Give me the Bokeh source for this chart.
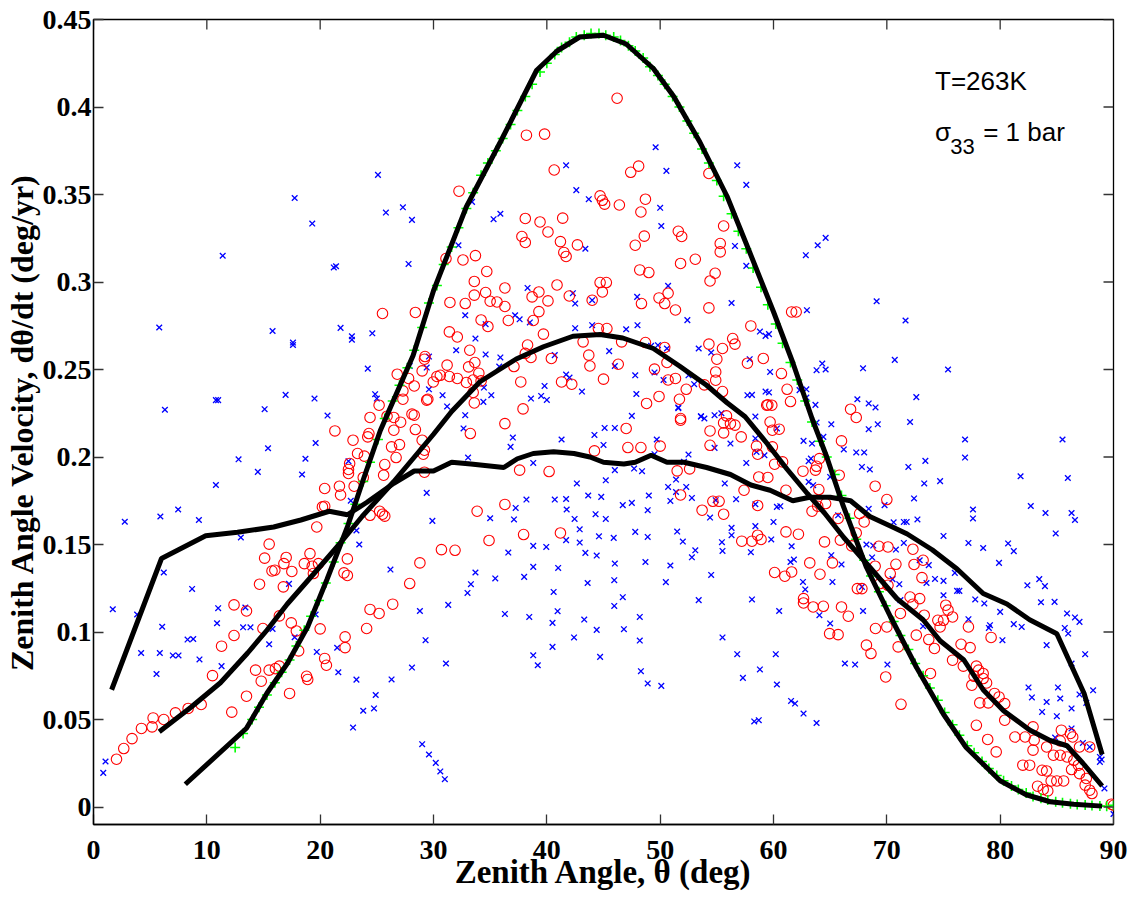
from bokeh.plotting import figure
from bokeh.models import FixedTicker, Label, Range1d
from bokeh.embed import file_html
from bokeh.resources import INLINE

# ---------------- data ----------------
x_ticks = [0, 10, 20, 30, 40, 50, 60, 70, 80, 90]
y_ticks = [0, 0.05, 0.1, 0.15, 0.2, 0.25, 0.3, 0.35, 0.4, 0.45]
y_tick_labels = ["0", "0.05", "0.1", "0.15", "0.2", "0.25", "0.3", "0.35", "0.4", "0.45"]
x_limits = (0, 90)
y_limits = (-0.01, 0.45)

blue_pts = [
    (0.86,0.0195),(1.06,0.026),(1.7,0.113),(2.76,0.163),(3.85,0.11),(4.2,0.088),(5.56,0.076),(5.9,0.166),(6.2,0.134),
    (6.06,0.103),(5.85,0.088),(6.3,0.227),(7.0,0.0866),(7.5,0.0866),(7.47,0.170),(8.3,0.0957),(8.8,0.096),(8.7,0.1246),
    (9.3,0.164),(9.35,0.0843),(10.8,0.184),(10.8,0.2325),(11.0,0.2325),(10.9,0.105),(11.0,0.1136),(11.3,0.0805),(13.0,0.154),
    (13.2,0.1027),(13.4,0.114),(13.85,0.1027),(12.8,0.1987),(14.5,0.1915),(15.1,0.2273),(15.4,0.205),(15.5,0.093),(15.8,0.1018),
    (17.25,0.1275),(17.75,0.097),(18.4,0.190),(18.7,0.199),(19.6,0.208),(19.6,0.11),(19.7,0.0886),(20.65,0.2237),(21.5,0.091),
    (21.6,0.077),(22.5,0.1976),(22.7,0.175),(23.2,0.158),(23.45,0.150),(23.2,0.0728),(22.9,0.0454),(23.8,0.055),(24.75,0.0563),
    (24.9,0.064),
    (5.8,0.274),(11.4,0.315),(15.8,0.272),(16.95,0.2355),(17.6,0.2654),(17.6,0.264),(17.75,0.348),(19.3,0.3334),(19.5,0.2334),
    (21.2,0.3083),(21.4,0.309),(21.8,0.2738),(22.8,0.269),(22.8,0.267),(24.6,0.2707),(24.2,0.2505),(24.85,0.2359),(25.0,0.2334),
    (25.1,0.3612),(25.8,0.3397),(27.3,0.3427),(28.1,0.3355),(27.8,0.3103),(27.9,0.252),(29.4,0.2511),(29.6,0.2574),(29.6,0.2387),
    (41.7,0.3667),(42.6,0.3525),(43.7,0.3473),(35.3,0.3359),(35.9,0.339),(33.4,0.3458),(32.2,0.321),(43.4,0.319),(49.6,0.377),
    (50.55,0.3635),(50.0,0.3424),(50.1,0.332),(56.8,0.3667),(57.6,0.3555),(56.6,0.3206),(57.6,0.3092),(56.3,0.288),(50.7,0.2978),
    (47.97,0.2915),(42.3,0.2936),(42.5,0.2877),(44.0,0.2896),(38.3,0.2966),(32.8,0.281),(37.2,0.281),(37.6,0.2787),(38.5,0.2769),
    (34.6,0.2759),(42.5,0.2736),(44.0,0.2753),(47.0,0.273),(48.0,0.2753),(52.4,0.2782),(58.8,0.2717),(59.3,0.2692),(59.6,0.2702),
    (33.7,0.2677),(32.0,0.261),(34.6,0.2586),(35.9,0.2569),(35.8,0.2517),(40.7,0.2582),(45.5,0.2605),(46.0,0.252),(49.2,0.2635),
    (49.8,0.2639),(50.6,0.262),(53.4,0.262),(54.5,0.2597),(57.9,0.2559),(59.7,0.2486),(47.8,0.2467),(49.5,0.2483),(50.3,0.244),
    (52.5,0.2467),(53.0,0.2416),(41.7,0.2471),(42.0,0.2454),(39.8,0.2406),(30.8,0.2353),(34.45,0.2397),(35.1,0.2353),(38.6,0.2334),
    (39.5,0.2349),(40.0,0.2326),(43.1,0.2374),(47.9,0.236),(57.7,0.2353),(58.1,0.2355),(59.3,0.2374),(59.6,0.2369),(32.8,0.2239),
    (31.2,0.2289),(47.5,0.2235),(51.6,0.2279),(53.6,0.2231),(54.8,0.2239),(55.4,0.225),(58.4,0.2231),
    (62.85,0.3153),(63.9,0.321),(64.6,0.3252),(62.95,0.2839),(69.1,0.289),(71.65,0.278),(70.7,0.2555),(75.4,0.25),(67.9,0.2507),
    (63.8,0.2496),(64.3,0.2534),(64.6,0.25),(62.3,0.2382),(62.9,0.2387),(62.9,0.234),(63.7,0.2298),(67.4,0.233),(68.4,0.2306),
    (69.0,0.2283),(72.6,0.2342),
    (65.1,0.2187),(63.8,0.2197),(64.4,0.2115),(62.65,0.2092),(63.4,0.2077),(66.2,0.2043),(67.3,0.2026),(68.0,0.2026),(68.4,0.2159),
    (69.2,0.2187),(72.05,0.22),(76.9,0.21),(76.9,0.1997),(73.4,0.1978),(74.7,0.1862),(73.3,0.1849),(71.9,0.1943),(67.8,0.1943),
    (68.5,0.1929),(63.3,0.1991),(63.1,0.1976),(65.0,0.1886),(63.1,0.1858),(63.5,0.1839),(72.4,0.1763),(69.8,0.1725),(68.4,0.1704),
    (77.6,0.17),(77.6,0.1649),(72.7,0.1643),(71.75,0.1629),(71.5,0.1629),(70.6,0.1627),(75.0,0.1549),(77.2,0.1509),(71.5,0.1509),
    (70.8,0.1471),(68.8,0.1494),(68.2,0.15),(65.7,0.1667),(61.6,0.149),(60.6,0.1719),(65.1,0.1439),(66.0,0.1386),(61.8,0.1414),
    (61.5,0.14),(68.7,0.1426),(72.9,0.141),(73.7,0.1382),(76.0,0.1338),(62.6,0.1286),(65.2,0.1286),(62.8,0.1243),(70.5,0.1302),
    (71.1,0.1273),(73.5,0.128),(74.25,0.1303),(75.0,0.1292),(76.2,0.1235),(76.4,0.1235),(67.8,0.1258),(75.0,0.121),
    (64.05,0.1096),(65.0,0.1049),(66.3,0.082),(67.2,0.0814),(67.9,0.112),(70.05,0.0814),(71.2,0.1182),(73.2,0.1033),(77.2,0.1073),
    (79.1,0.1039),(79.0,0.1023),(80.2,0.0953),(81.2,0.1045),(81.9,0.1029),(78.6,0.1163),(80.0,0.1115),(77.8,0.1186),(78.5,0.148),
    (79.9,0.1395),(80.7,0.1506),(81.2,0.1462),(82.4,0.1267),(83.45,0.1302),(83.95,0.1262),(83.6,0.117),(84.8,0.1172),(84.9,0.1563),
    (84.1,0.0925),(85.9,0.1106),(86.6,0.1083),(87.0,0.1058),(85.7,0.1023),(86.0,0.0991),(87.5,0.0873),(86.3,0.082),(82.5,0.0683),
    (82.8,0.0626),(84.1,0.06),(85.1,0.0683),(85.3,0.062),(83.7,0.0543),(85.0,0.0519),(86.3,0.0563),(86.3,0.0449),(87.0,0.0643),
    (87.6,0.0595),(88.2,0.0667),(84.85,0.0397),(87.3,0.0366),(87.9,0.0343),(88.8,0.0286),(88.95,0.0271),(88.8,0.0258),(89.2,0.0106),
    (90.0,-0.004),
    (85.5,0.21),(85.97,0.188),(86.3,0.168),(86.6,0.164),(81.8,0.189),(82.7,0.172),(84.0,0.168),
    (29.4,0.1795),(29.9,0.1635),(33.05,0.1997),(32.65,0.2163),(34.4,0.2315),(37.0,0.2111),(36.8,0.2058),(38.8,0.1966),(41.3,0.21),
    (44.2,0.2126),(45.1,0.2166),(46.0,0.2166),(45.0,0.2069),(49.7,0.21),(49.5,0.2016),(46.0,0.1925),(45.2,0.1867),(47.7,0.1934),
    (48.4,0.1919),(42.65,0.1849),(43.65,0.178),(44.8,0.1772),(46.7,0.1725),(47.5,0.1738),(49.0,0.178),(48.9,0.1696),(38.2,0.1757),
    (40.7,0.1757),(41.7,0.176),(41.75,0.17),(37.25,0.1709),(35.0,0.165),(37.1,0.1643),(42.45,0.1646),(44.3,0.1673),(45.2,0.1646),
    (42.9,0.1587),(47.8,0.1572),(48.9,0.1543),(45.9,0.1538),(44.6,0.1547),(41.7,0.1525),(42.9,0.1511),(38.8,0.1492),(39.95,0.1486),
    (36.6,0.1454),(43.4,0.1452),(44.4,0.1437),(46.0,0.1391),(48.7,0.14),(38.8,0.1372),(41.0,0.1366),(33.7,0.134),(26.2,0.1357),
    (35.45,0.1306),(38.0,0.1315),(33.3,0.1273),(33.0,0.1223),(40.6,0.1229),(43.6,0.128),(45.95,0.1296),(46.7,0.1199),(45.95,0.1149),
    (31.3,0.1155),(28.8,0.112),(36.3,0.1103),(38.45,0.1086),(40.95,0.1119),(40.5,0.1052),(43.3,0.1071),(44.4,0.1012),(46.8,0.1016),
    (48.2,0.1086),(29.3,0.0953),(40.5,0.0915),(42.4,0.0969),(44.7,0.0858),(48.2,0.0951),(38.8,0.0867),(39.2,0.081),(31.1,0.082),
    (28.1,0.0797),(26.3,0.0729),(48.3,0.0776),(48.9,0.0706),(29.0,0.0359),(29.6,0.03),(30.2,0.0252),(30.6,0.0203),(31.0,0.0159),
    (51.6,0.2283),(53.6,0.2233),(53.9,0.222),(60.3,0.2163),(52.5,0.2014),(52.1,0.1972),(56.2,0.2077),(54.8,0.2052),(58.4,0.2106),
    (58.5,0.2029),(59.2,0.201),(57.6,0.1966),(51.4,0.1871),(50.7,0.1829),(52.3,0.1829),(51.4,0.18),(52.8,0.1766),(50.9,0.1749),
    (55.7,0.1849),(56.7,0.1759),(54.9,0.1753),(54.4,0.1654),(58.4,0.173),(60.3,0.1715),(60.0,0.1629),(56.3,0.1595),(56.3,0.1553),
    (58.4,0.1605),(55.45,0.1513),(55.5,0.1463),(58.0,0.1456),(59.8,0.1529),(51.5,0.1574),(52.0,0.1517),(53.1,0.1467),(52.8,0.1427),
    (50.9,0.138),(54.5,0.1326),(50.5,0.1285),(53.4,0.1182),(58.1,0.1186),(60.5,0.112),(55.5,0.0969),(56.8,0.0873),(60.2,0.0873),
    (50.1,0.0692),(57.3,0.0738),(58.8,0.0786),(60.3,0.07),(61.55,0.0606),(61.9,0.0591),(62.65,0.0534),(58.3,0.0489),(58.7,0.0496),
    (63.8,0.048),
]

red_pts = [
    (2.03,0.0273),(2.67,0.0334),(3.4,0.0391),(4.23,0.0449),(5.17,0.0458),(5.26,0.0509),(6.2,0.05),(7.23,0.0538),(8.35,0.0563),
    (9.5,0.0586),(10.5,0.0751),(11.3,0.0919),(12.2,0.0542),(12.4,0.098),(12.4,0.1155),(13.5,0.0633),(13.5,0.112),(14.3,0.0782),
    (14.65,0.1273),(14.8,0.0719),(14.95,0.102),(15.1,0.1422),(15.5,0.1502),(15.5,0.0782),(15.75,0.1349),(16.0,0.1353),(16.05,0.0791),
    (16.4,0.0805),(16.4,0.1092),(16.8,0.1391),(16.75,0.1258),(17.0,0.1426),(17.3,0.0649),(17.45,0.1052),(17.5,0.1346),(17.9,0.1006),
    (18.1,0.0892),(18.6,0.1391),(18.8,0.0747),(18.9,0.0729),(19.1,0.1448),(19.3,0.1376),(19.4,0.1334),(19.7,0.16),(20.0,0.1018),
    (19.85,0.1391),(20.4,0.0849),(20.55,0.081),(20.4,0.182),(20.4,0.1719),(20.2,0.1715),(21.3,0.2149),(21.7,0.1833),(21.8,0.1783),
    (22.2,0.0972),(22.2,0.0911),(22.1,0.1338),(22.4,0.1323),(22.4,0.1418),(22.5,0.1929),(22.5,0.1906),(22.6,0.1963),(22.9,0.2096),
    (23.0,0.1833),(23.3,0.202),(23.8,0.1883),(23.9,0.2005),(24.2,0.2115),(24.3,0.2134),(24.4,0.2226),(24.4,0.1667),(24.4,0.1129),
    (24.1,0.102),(25.2,0.1106),(25.2,0.2296),
    (25.9,0.2233),(26.5,0.2226),(27.1,0.2199),(28.1,0.2245),(26.5,0.2153),(28.4,0.2157),(27.0,0.2071),(26.3,0.2058),(29.0,0.2096),
    (29.2,0.2039),(29.1,0.2016),(26.7,0.1997),(25.7,0.1957),(25.6,0.1896),(29.2,0.1913),(25.25,0.169),(25.5,0.1673),(25.7,0.1662),
    (33.25,0.2134),(36.3,0.2191),(37.9,0.2275),(33.6,0.2309),(33.85,0.169),(36.3,0.1729),(37.6,0.1925),(40.2,0.1917),(37.95,0.1557),
    (34.9,0.1523),(41.2,0.1566),(30.7,0.1471),(31.9,0.1467),(28.8,0.1395),(27.9,0.1277),(26.4,0.1159),(47.0,0.2163),(44.2,0.2035),
    (47.15,0.2054),(48.3,0.2054),(48.8,0.2306),(29.4,0.2325),
    (25.5,0.282),(28.4,0.2826),(29.25,0.2574),(29.2,0.2559),(26.8,0.2473),(27.8,0.2449),(28.3,0.2406),(27.3,0.2378),(29.5,0.233),
    (27.3,0.233),(28.3,0.2239),(29.0,0.2492),
    (46.2,0.405),(38.2,0.3839),(39.8,0.3845),(40.65,0.364),(47.4,0.3627),(48.1,0.3662),(54.3,0.362),(32.25,0.3519),(44.7,0.3492),
    (44.9,0.3467),(45.1,0.3445),(46.4,0.344),(48.7,0.3473),(48.3,0.34),(38.1,0.3363),(39.4,0.3343),(41.4,0.3365),(40.1,0.3286),
    (37.8,0.326),(38.1,0.3226),(41.2,0.3231),(41.5,0.3169),(41.7,0.3146),(42.7,0.3212),(48.6,0.3262),(47.8,0.321),(51.6,0.329),
    (51.9,0.326),(55.6,0.332),(55.3,0.322),(55.3,0.3172),(51.8,0.3106),(53.1,0.313),(48.2,0.3069),(49.0,0.3054),(54.85,0.305),
    (54.4,0.3006),(54.3,0.2852),(51.35,0.284),(50.4,0.2877),(49.9,0.2909),(50.7,0.2936),(48.35,0.2877),(44.7,0.2997),(45.25,0.2997),
    (44.9,0.2943),(44.0,0.2896),(41.98,0.292),(40.9,0.2983),(40.1,0.2892),(39.3,0.2943),(38.7,0.2915),(39.3,0.2831),(38.8,0.278),
    (36.3,0.2966),(36.3,0.286),(36.6,0.278),(35.6,0.2886),(35.0,0.289),(34.6,0.294),(34.7,0.306),(33.6,0.3003),(33.6,0.2925),
    (32.8,0.2877),(31.45,0.2883),(34.2,0.2783),(34.8,0.2746),(32.6,0.3126),(33.7,0.3151),(31.1,0.3134),(31.4,0.2715),(32.1,0.2686),
    (33.2,0.261),(39.7,0.2702),(38.3,0.264),(38.1,0.2592),(38.6,0.2569),(40.4,0.2563),(37.1,0.2517),(31.2,0.2525),(33.1,0.2515),
    (33.65,0.254),(30.6,0.2467),(31.4,0.246),(32.1,0.2449),(32.9,0.2426),(33.5,0.244),(34.0,0.2479),(34.2,0.2435),(33.5,0.2369),
    (37.7,0.2429),(41.3,0.2429),(42.2,0.2416),(43.2,0.2658),(43.7,0.2582),(43.8,0.252),(44.55,0.2734),(45.3,0.2734),(46.6,0.2658),
    (45.0,0.2445),(46.3,0.253),(48.7,0.2654),(50.4,0.2626),(50.6,0.254),(49.5,0.2502),(51.35,0.2449),(50.7,0.244),(52.3,0.2387),
    (51.7,0.233),(49.9,0.2346),(51.8,0.222),(54.3,0.2645),(55.5,0.262),(55.0,0.2559),(54.9,0.2486),(54.9,0.2439),(53.9,0.2412),
    (55.5,0.2374),(56.4,0.2677),(56.6,0.2645),(58.0,0.2749),(59.1,0.2563),(57.7,0.2536),(59.5,0.2298),(55.85,0.2235),(29.98,0.2429),
    (30.3,0.246),
    (61.6,0.2829),(62.0,0.2829),(60.7,0.2477),(61.2,0.2387),(61.5,0.2317),(66.8,0.2273),(67.3,0.2226),
    (51.8,0.221),(54.4,0.2149),(55.6,0.2138),(55.6,0.2195),(56.2,0.2191),(56.6,0.2182),(57.15,0.2115),(59.4,0.2296),(59.85,0.2296),
    (59.7,0.22),(60.5,0.2159),(59.9,0.2153),(50.0,0.2062),(54.4,0.2067),(58.5,0.2062),(58.6,0.2016),(59.9,0.2058),(60.1,0.1959),
    (51.5,0.1921),(52.6,0.1932),(58.7,0.1886),(59.5,0.1883),(51.8,0.1783),(57.4,0.181),(53.7,0.1696),(54.65,0.1747),(55.2,0.1747),
    (55.6,0.1673),(58.6,0.1723),(57.2,0.1519),(58.1,0.1519),(58.6,0.1553),(58.9,0.1529),(60.1,0.134),(60.8,0.1972),
    (66.0,0.2092),(64.05,0.1991),(63.8,0.1947),(63.7,0.1925),(62.6,0.1919),(65.8,0.1896),(64.0,0.1814),(61.1,0.181),(68.97,0.1833),
    (70.0,0.1757),(63.9,0.1719),(63.4,0.169),(64.6,0.1734),(67.6,0.1677),(68.0,0.1629),(65.7,0.1649),(61.1,0.1572),(62.2,0.1559),
    (64.5,0.1515),(65.9,0.1525),(67.3,0.1566),(69.3,0.149),(70.1,0.1486),(72.3,0.1473),(66.9,0.1492),(63.2,0.1395),(65.2,0.1395),
    (68.97,0.1376),(70.8,0.1387),(72.4,0.1386),(73.2,0.141),(64.1,0.133),(70.3,0.1334),(73.1,0.1311),(61.0,0.1319),(61.6,0.1343),
    (67.4,0.1248),(67.8,0.1248),(69.4,0.1277),(70.1,0.1267),(72.05,0.12),(72.9,0.1191),(62.65,0.1191),
    (62.65,0.1166),(63.5,0.1143),(64.4,0.1147),(64.95,0.0991),(65.7,0.0985),(66.0,0.1143),(66.6,0.109),(68.2,0.0925),(68.6,0.0877),
    (69.0,0.102),(70.0,0.1029),(71.2,0.1106),(71.0,0.0915),(69.9,0.0743),(71.25,0.0587),(72.3,0.1159),(72.6,0.0982),(73.3,0.1096),
    (73.7,0.0957),(73.85,0.0763),(74.2,0.0906),(74.5,0.1067),(75.0,0.1067),(75.2,0.1153),(75.4,0.1125),(75.8,0.1086),(74.7,0.1029),
    (75.8,0.0839),(76.55,0.093),(77.35,0.0911),(77.2,0.1029),(76.75,0.0805),(77.9,0.0805),(78.1,0.0782),(78.5,0.0763),(77.7,0.0747),
    (78.5,0.0734),(78.8,0.0709),(79.2,0.0969),(79.5,0.0649),(79.9,0.0629),(77.5,0.0696),(77.9,0.0467),(78.9,0.0386),(79.65,0.0315),
    (78.2,0.0595),(78.95,0.0595),(80.4,0.0591),(80.4,0.0496),(81.3,0.04),(82.2,0.04),(82.9,0.0458),(83.0,0.0382),(82.9,0.0325),
    (82.0,0.0239),(82.6,0.0239),(83.7,0.021),(84.1,0.0206),(84.5,0.0149),(85.0,0.0149),(85.6,0.0149),(83.3,0.0119),(83.8,0.01),
    (84.2,0.0092),(84.1,0.0343),(84.7,0.0296),(85.3,0.0296),(85.9,0.0286),(86.3,0.0214),(86.5,0.0267),(86.9,0.0239),(86.4,0.04),
    (87.0,0.0343),(85.4,0.0439),(86.2,0.042),(85.3,0.0378),(87.0,0.0191),(87.5,0.0125),(87.9,0.0096),(88.1,0.0077),(87.6,0.0163),
    (87.9,0.0343),(89.8,0.0016),(90.0,0.001),
]

blue_x = [p_[0] for p_ in blue_pts]
blue_y = [p_[1] for p_ in blue_pts]
red_x = [p_[0] for p_ in red_pts]
red_y = [p_[1] for p_ in red_pts]

green_x = [12.5,13.2,14.0,14.6,15.3,16.0,16.6,17.3,17.9,18.6,19.2,19.9,20.5,21.2,21.8,22.5,23.1,23.8,24.4,25.1,25.7,26.4,
           27.0,27.7,28.3,29.0,29.6,30.3,30.9,31.6,32.2,32.9,33.5,34.2,34.8,35.5,36.1,36.8,37.4,38.1,38.7,39.4,40.0,40.7,
           41.3,42.0,42.6,43.3,43.9,44.6,45.2,45.9,46.5,47.2,47.8,48.5,49.1,49.8,50.4,51.1,51.7,52.4,53.0,53.7,54.3,55.0,
           55.6,56.3,56.9,57.6,58.2,58.9,59.5,60.2,60.8,61.5,62.1,62.8,63.4,64.1,64.7,65.4,66.0,66.7,67.3,68.0,68.6,69.3,
           69.9,70.6,71.2,71.9,72.5,73.2,73.8,74.5,75.1,75.8,76.4,77.1,77.7,78.4,79.0,79.7,80.3,81.0,81.6,82.3,82.9,83.6,
           84.2,84.9,85.5,86.2,86.8,87.5,88.1,88.8,89.4,90.0]
green_y = [0.034,0.042,0.050,0.057,0.064,0.071,0.077,0.084,0.092,0.101,0.109,0.118,0.128,0.140,0.151,0.162,0.173,0.186,
           0.197,0.210,0.222,0.232,0.241,0.251,0.261,0.274,0.288,0.298,0.310,0.320,0.331,0.342,0.351,0.361,0.368,0.375,
           0.382,0.390,0.398,0.406,0.413,0.420,0.425,0.430,0.434,0.437,0.440,0.441,0.442,0.442,0.441,0.440,0.438,0.435,
           0.432,0.428,0.423,0.418,0.413,0.406,0.400,0.392,0.385,0.376,0.368,0.358,0.349,0.339,0.329,0.319,0.308,0.297,
           0.287,0.276,0.265,0.254,0.244,0.232,0.220,0.209,0.200,0.190,0.178,0.165,0.153,0.141,0.132,0.123,0.115,0.106,
           0.098,0.090,0.082,0.075,0.068,0.061,0.054,0.047,0.041,0.035,0.031,0.026,0.022,0.018,0.015,0.012,0.010,0.008,
           0.006,0.005,0.004,0.003,0.0025,0.0019,0.0015,0.0012,0.0009,0.0006,0.0004,0.001]

peak_x = [8.1,13.5,15.3,17.1,18.9,20.6,22.4,23.8,25.3,28.2,30,32.9,35.9,39.1,40.9,42.9,45,47,49.4,51.2,53.5,55.9,57.9,60,
          61.7,63.4,64.7,66.1,68.2,70.3,72.6,75,77,80,82.3,84.4,86.5,89]
peak_y = [0.013,0.045,0.065,0.082,0.103,0.13,0.16,0.187,0.215,0.258,0.295,0.343,0.38,0.421,0.432,0.440,0.441,0.436,0.422,
          0.406,0.38,0.349,0.317,0.283,0.254,0.222,0.2,0.173,0.137,0.109,0.08,0.053,0.034,0.015,0.007,0.003,0.0016,0.0005]

mid_x = [5.8,8.6,11.2,13.6,15.3,17.1,19.4,21.8,23.7,26.5,30,31.6,34.1,37.3,39.7,42.3,44.7,46.7,49.4,51.7,54.1,55.9,57.5,
         59.4,61.2,63,64.5,66.2,68.5,70.9,73.2,74.7,76.8,78.5,80.3,82.6,84.4,85.9,87.3,89]
mid_y = [0.043,0.057,0.071,0.088,0.101,0.116,0.133,0.151,0.166,0.186,0.213,0.226,0.243,0.256,0.263,0.269,0.27,0.268,0.262,
         0.252,0.241,0.231,0.223,0.208,0.193,0.179,0.168,0.154,0.137,0.119,0.107,0.095,0.084,0.067,0.055,0.044,0.038,0.035,
         0.025,0.012]

flat_x = [1.6,6.0,9.9,12.7,15.9,18.3,20.8,22.4,24.1,26.5,28.3,30,31.6,33.3,36.2,37.4,38.8,40.6,42.4,43.8,45,46.8,47.8,49.2,
          50.6,52.1,54.1,56.2,58,59.7,61.7,63.2,65,66.8,68.5,70.5,71.8,74,76.2,78.5,80.6,82.6,85,87.4,89]
flat_y = [0.067,0.142,0.155,0.157,0.16,0.164,0.169,0.167,0.174,0.185,0.192,0.192,0.197,0.196,0.194,0.199,0.202,0.203,0.202,
          0.2,0.197,0.196,0.197,0.201,0.197,0.197,0.194,0.19,0.184,0.181,0.175,0.177,0.177,0.175,0.166,0.16,0.156,0.147,
          0.136,0.122,0.116,0.107,0.099,0.065,0.03]

# ---------------- figure ----------------
SERIF = "Liberation Serif"
p = figure(width=1131, height=897, x_range=Range1d(*x_limits), y_range=Range1d(*y_limits),
           output_backend="svg", toolbar_location=None,
           min_border_left=93, min_border_right=18, min_border_top=19, min_border_bottom=73)
p.grid.visible = False
p.outline_line_color = "black"
p.outline_line_width = 1.3
p.background_fill_color = "white"
p.border_fill_color = "white"

p.scatter(blue_x, blue_y, marker="x", size=8, line_color="#0000ff", line_width=1.3)
p.scatter(red_x, red_y, marker="circle", size=10.5, line_color="#ff0000", fill_color=None, line_width=1.1)
p.scatter(green_x, green_y, marker="cross", size=10, line_color="#00ff00", line_width=1.6)

for lx, ly in ((peak_x, peak_y), (mid_x, mid_y), (flat_x, flat_y)):
    p.line(lx, ly, line_color="black", line_width=5)

# inward ticks on the top and right edges of the box (tick length: ~1.2% of each span)
x_span = x_limits[1] - x_limits[0]
y_span = y_limits[1] - y_limits[0]
p.segment(x0=x_ticks, y0=[y_limits[1]] * len(x_ticks),
          x1=x_ticks, y1=[y_limits[1] - 0.0125 * y_span] * len(x_ticks),
          line_color="#333333", line_width=1.3)
p.segment(x0=[x_limits[1]] * len(y_ticks), y0=y_ticks,
          x1=[x_limits[1] - 0.0098 * x_span] * len(y_ticks), y1=y_ticks,
          line_color="#333333", line_width=1.3)

p.xaxis.ticker = FixedTicker(ticks=x_ticks)
p.yaxis.ticker = FixedTicker(ticks=y_ticks)
p.yaxis.major_label_overrides = dict(zip(y_ticks, y_tick_labels))

for ax in p.xaxis + p.yaxis:
    ax.major_tick_in = 10
    ax.major_tick_out = 0
    ax.minor_tick_in = 0
    ax.minor_tick_out = 0
    ax.axis_line_color = "black"
    ax.major_tick_line_color = "#333333"
    ax.major_tick_line_width = 1.3
    ax.axis_line_width = 1.3
    ax.major_label_text_font = SERIF
    ax.major_label_text_font_style = "bold"
    ax.major_label_text_font_size = "28px"
    ax.major_label_text_color = "black"
    ax.axis_label_text_font = SERIF
    ax.axis_label_text_font_style = "bold"
    ax.axis_label_text_color = "black"

p.xaxis.axis_label_text_font_size = "33px"
p.yaxis.axis_label_text_font_size = "32px"
p.xaxis.major_label_standoff = 16
p.yaxis.major_label_standoff = 2
p.xaxis.axis_label = "Zenith Angle, \u03b8 (deg)"
p.yaxis.axis_label = "Zenith Angle Velocity, d\u03b8/dt (deg/yr)"
p.xaxis.axis_label_standoff = -8
p.yaxis.axis_label_standoff = 0

SANS = "Liberation Sans"
p.add_layout(Label(x=74.25, y=0.4147, text="T=263K", text_font=SANS, text_font_size="26px",
                   text_color="black", text_baseline="alphabetic"))
p.add_layout(Label(x=74.25, y=0.3856, text="\u03c3", text_font=SANS, text_font_size="26px",
                   text_color="black", text_baseline="alphabetic"))
p.add_layout(Label(x=75.6, y=0.3776, text="33", text_font=SANS, text_font_size="22px",
                   text_color="black", text_baseline="alphabetic"))
p.add_layout(Label(x=78.5, y=0.3856, text="= 1 bar", text_font=SANS, text_font_size="26px",
                   text_color="black", text_baseline="alphabetic"))

open("out.html", "w").write(file_html(p, INLINE))
